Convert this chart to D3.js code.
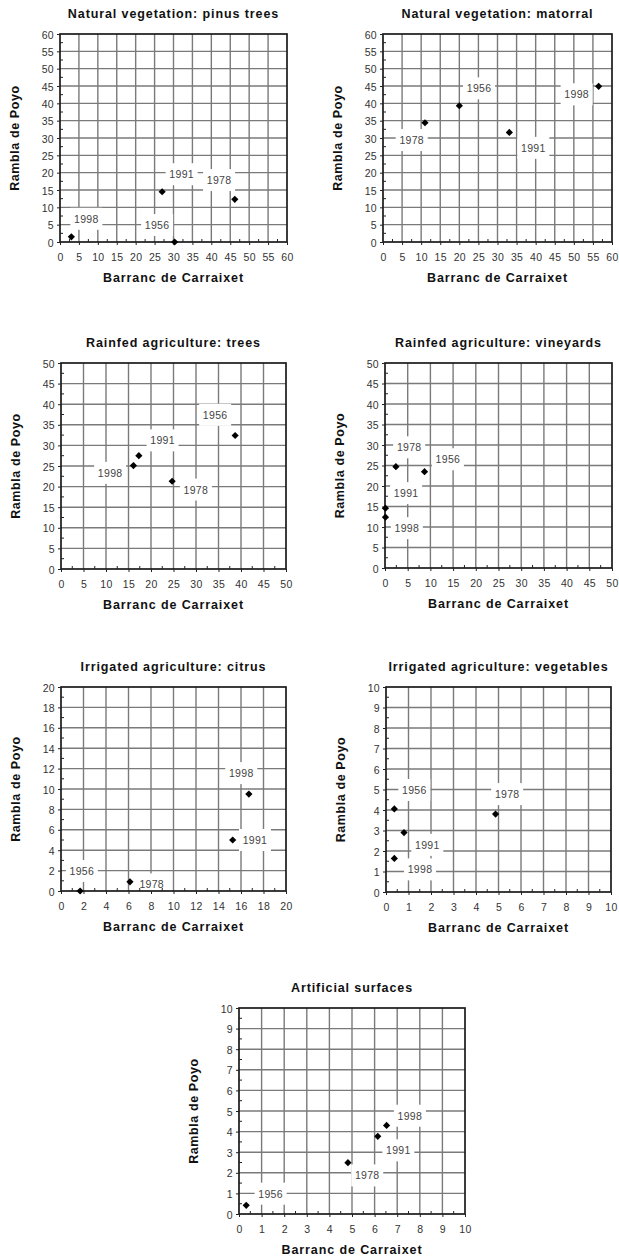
<!DOCTYPE html>
<html><head><meta charset="utf-8">
<script src="https://cdn.jsdelivr.net/npm/d3@7"></script>
<style>
html,body{margin:0;padding:0;background:#fff;}
svg{display:block;font-family:"Liberation Sans",Arial,sans-serif;}
</style></head>
<body>
<svg id="chart" width="619" height="1260"></svg>
<script>
// ---------- DATA ----------
const years = ["1956", "1978", "1991", "1998"];
const titles = [
  "Natural vegetation: pinus trees",
  "Natural vegetation: matorral",
  "Rainfed agriculture: trees",
  "Rainfed agriculture: vineyards",
  "Irrigated agriculture: citrus",
  "Irrigated agriculture: vegetables",
  "Artificial surfaces"
];
const axisMax  = [60, 60, 50, 50, 20, 10, 10];
const axisStep = [5, 5, 5, 5, 2, 1, 1];
// Barranc de Carraixet values (x), in order of years
const carraixet = [
  [30.3, 46.2, 27.0, 3.0],
  [20.0, 11.0, 33.1, 56.5],
  [38.7, 24.7, 17.3, 16.1],
  [8.7, 2.4, 0.1, 0.1],
  [1.7, 6.13, 15.26, 16.7],
  [0.37, 4.87, 0.8, 0.37],
  [0.32, 4.82, 6.14, 6.53]
];
// Rambla de Poyo values (y), in order of years
const poyo = [
  [0.0, 12.3, 14.5, 1.5],
  [39.3, 34.4, 31.6, 44.9],
  [32.4, 21.3, 27.5, 25.1],
  [23.5, 24.7, 14.6, 12.4],
  [0.0, 0.9, 5.0, 9.5],
  [4.05, 3.8, 2.9, 1.64],
  [0.42, 2.49, 3.77, 4.3]
];
const xTitle = "Barranc de Carraixet";
const yTitle = "Rambla de Poyo";

// ---------- LAYOUT ----------
const frames = [
  {x0: 60,  x1: 287, y0: 34,   y1: 242},
  {x0: 383, x1: 612, y0: 34,   y1: 242},
  {x0: 61,  x1: 286, y0: 363,  y1: 569},
  {x0: 385, x1: 612, y0: 363,  y1: 568},
  {x0: 61,  x1: 286, y0: 687,  y1: 891},
  {x0: 386, x1: 611, y0: 687,  y1: 892},
  {x0: 239, x1: 465, y0: 1008, y1: 1214}
];
// label offsets (px) from their point, in order of years
const labelOffsets = [
  [[-17.5,-17],[-15.7,-19.3],[19.5,-17.5],[15,-18]],
  [[19.7,-17.4],[-13.3,17.3],[24,15.4],[-22,8]],
  [[-20,-20.7],[23.7,8.3],[23.7,-15.3],[-23.3,7.3]],
  [[23.4,-12.4],[13.3,-19.4],[20.7,-15],[21.4,11]],
  [[1.7,-20],[21.7,2.6],[22.3,0],[-7.6,-21]],
  [[20,-19],[11.6,-20],[23.3,12.3],[25.7,11]],
  [[24.4,-11.7],[19.3,12.7],[20.6,14],[23.3,-9.7]]
];

const svg = d3.select("#chart");
const gridColor = "#7a7a7a";

frames.forEach((f, i) => {
  const max = axisMax[i], step = axisStep[i];
  const x = d3.scaleLinear().domain([0, max]).range([f.x0, f.x1]);
  const y = d3.scaleLinear().domain([0, max]).range([f.y1, f.y0]);
  const ticks = d3.range(0, max + step / 2, step);
  const minor = d3.range(step / 2, max, step);
  const g = svg.append("g");

  // gridlines
  g.append("g").selectAll("line").data(ticks.slice(1, -1)).join("line")
    .attr("x1", d => x(d)).attr("x2", d => x(d))
    .attr("y1", f.y0).attr("y2", f.y1)
    .attr("stroke", gridColor).attr("stroke-width", 1.4);
  g.append("g").selectAll("line").data(ticks.slice(1, -1)).join("line")
    .attr("y1", d => y(d)).attr("y2", d => y(d))
    .attr("x1", f.x0).attr("x2", f.x1)
    .attr("stroke", gridColor).attr("stroke-width", 1.4);

  // label boxes + text
  const pts = years.map((yr, k) => ({
    yr, px: x(carraixet[i][k]), py: y(poyo[i][k]),
    dx: labelOffsets[i][k][0], dy: labelOffsets[i][k][1]
  }));
  const lg = g.append("g");
  pts.forEach(p => {
    lg.append("rect")
      .attr("x", p.px + p.dx - 16).attr("y", p.py + p.dy - 11)
      .attr("width", 32).attr("height", 22).attr("fill", "#fff");
  });
  pts.forEach(p => {
    lg.append("text")
      .attr("x", p.px + p.dx).attr("y", p.py + p.dy)
      .attr("text-anchor", "middle").attr("dominant-baseline", "central")
      .attr("font-size", 10.5).attr("letter-spacing", 0.3)
      .attr("fill", "#444").text(p.yr);
  });

  // frame
  g.append("rect").attr("x", f.x0).attr("y", f.y0)
    .attr("width", f.x1 - f.x0).attr("height", f.y1 - f.y0)
    .attr("fill", "none").attr("stroke", "#1a1a1a").attr("stroke-width", 1.7);

  // axes
  const xAxis = d3.axisBottom(x).tickValues(ticks).tickSize(3).tickFormat(d3.format("d"));
  const yAxis = d3.axisLeft(y).tickValues(ticks).tickSize(3).tickFormat(d3.format("d"));
  const gx = g.append("g").attr("transform", `translate(0,${f.y1})`).call(xAxis);
  const gy = g.append("g").attr("transform", `translate(${f.x0},0)`).call(yAxis);
  [gx, gy].forEach(a => {
    a.select(".domain").remove();
    a.selectAll("line").attr("stroke", "#222");
    a.selectAll("text").attr("font-size", 10.5).attr("fill", "#333")
      .attr("letter-spacing", 0.3)
      .attr("font-family", "Liberation Sans, Arial, sans-serif");
  });
  gx.selectAll("text").attr("dy", "0").attr("y", 15).attr("dominant-baseline", "central");
  gy.selectAll("text").attr("x", -6).attr("dy", "0").attr("dominant-baseline", "central");

  // minor ticks (inward)
  g.append("g").selectAll("line").data(minor).join("line")
    .attr("x1", d => x(d)).attr("x2", d => x(d))
    .attr("y1", f.y1).attr("y2", f.y1 - 3).attr("stroke", "#222");
  g.append("g").selectAll("line").data(minor).join("line")
    .attr("y1", d => y(d)).attr("y2", d => y(d))
    .attr("x1", f.x0).attr("x2", f.x0 + 3).attr("stroke", "#222");

  // points
  const sym = d3.symbol().type(d3.symbolSquare).size(26);
  g.append("g").selectAll("path").data(pts).join("path")
    .attr("d", sym)
    .attr("transform", d => `translate(${d.px},${d.py}) rotate(45)`)
    .attr("fill", "#000");

  // titles
  const cx = (f.x0 + f.x1) / 2, cy = (f.y0 + f.y1) / 2;
  g.append("text").attr("x", cx).attr("y", f.y0 - 20)
    .attr("text-anchor", "middle").attr("dominant-baseline", "central")
    .attr("font-size", 12.5).attr("letter-spacing", 0.9)
    .attr("font-weight", "bold").attr("fill", "#111")
    .text(titles[i]);
  g.append("text").attr("x", cx).attr("y", f.y1 + 36)
    .attr("text-anchor", "middle").attr("dominant-baseline", "central")
    .attr("font-size", 12.5).attr("letter-spacing", 0.9)
    .attr("font-weight", "bold").attr("fill", "#111")
    .text(xTitle);
  g.append("text")
    .attr("transform", `translate(${f.x0 - 45},${cy}) rotate(-90)`)
    .attr("text-anchor", "middle").attr("dominant-baseline", "central")
    .attr("font-size", 12.5).attr("letter-spacing", 0.6)
    .attr("font-weight", "bold").attr("fill", "#111")
    .text(yTitle);
});
</script>
</body></html>
